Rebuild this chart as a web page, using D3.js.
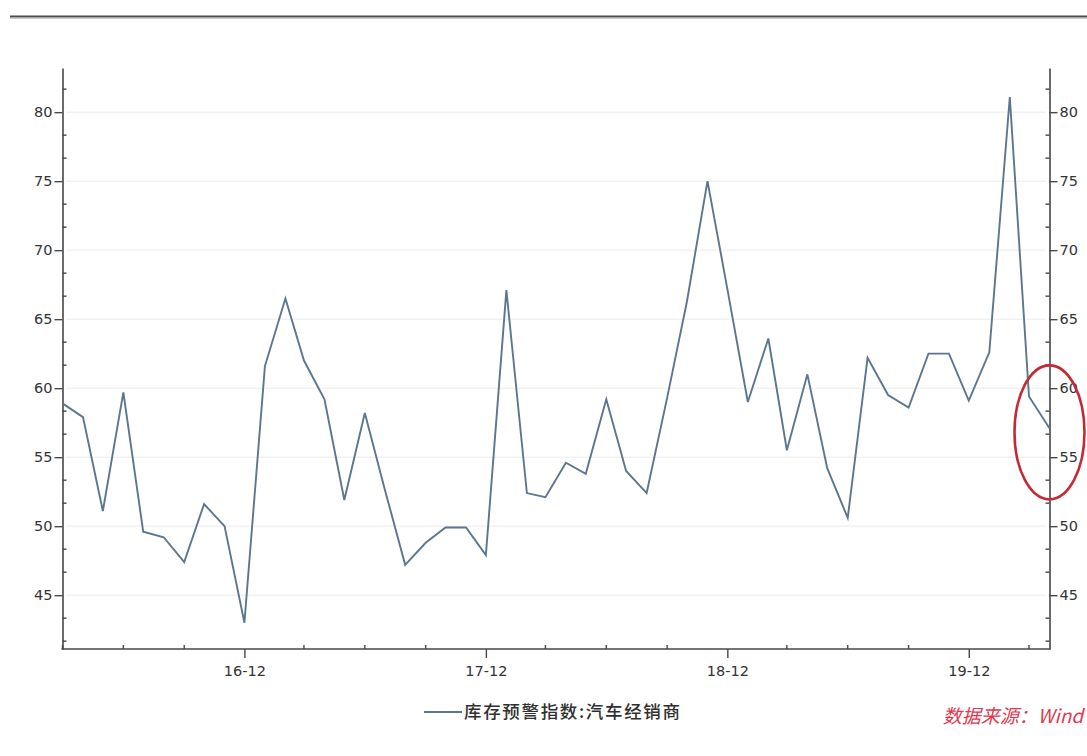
<!DOCTYPE html>
<html>
<head>
<meta charset="utf-8">
<script src="https://cdn.jsdelivr.net/npm/d3@7"></script>
<style>
  html, body { margin: 0; padding: 0; background: #ffffff; }
  svg { display: block; }
  .tick text { font-family: "DejaVu Sans", sans-serif; font-size: 14.5px; fill: #333333; }
</style>
</head>
<body>
<svg id="chart" width="1087" height="756"></svg>
<script>
// Monthly dealer inventory warning index, Mar 2016 – Apr 2020
const months = [
  "2016-03","2016-04","2016-05","2016-06","2016-07","2016-08","2016-09","2016-10","2016-11","2016-12",
  "2017-01","2017-02","2017-03","2017-04","2017-05","2017-06","2017-07","2017-08","2017-09","2017-10","2017-11","2017-12",
  "2018-01","2018-02","2018-03","2018-04","2018-05","2018-06","2018-07","2018-08","2018-09","2018-10","2018-11","2018-12",
  "2019-01","2019-02","2019-03","2019-04","2019-05","2019-06","2019-07","2019-08","2019-09","2019-10","2019-11","2019-12",
  "2020-01","2020-02","2020-03","2020-04"
];
const indexValues = [
  58.9, 57.9, 51.1, 59.7, 49.6, 49.2, 47.4, 51.6, 50.0, 43.0,
  61.6, 66.5, 62.0, 59.2, 51.9, 58.2, 52.7, 47.2, 48.8, 49.9, 49.9, 47.9,
  67.1, 52.4, 52.1, 54.6, 53.8, 59.2, 54.0, 52.4, 59.3, 66.3, 75.0, 67.2,
  59.0, 63.6, 55.5, 61.0, 54.2, 50.6, 62.2, 59.5, 58.6, 62.5, 62.5, 59.1,
  62.6, 81.1, 59.4, 57.1
];
const yMajorTicks = [45, 50, 55, 60, 65, 70, 75, 80];
const yDomain = [41.1, 83.2];
const seriesName = "库存预警指数:汽车经销商";
const sourceText = "数据来源：Wind";
// highlighted latest readings (centre month and value of the ring)
const highlightMonth = "2020-04";
const highlightValue = 56.8;

const parseMonth = d3.timeParse("%Y-%m");
const data = months.map((m, i) => ({ date: parseMonth(m), value: indexValues[i] }));

const svg = d3.select("#chart");
const plotLeft = 62.5, plotRight = 1049.5, plotTop = 68, plotBottom = 649;

const x = d3.scaleTime()
  .domain(d3.extent(data, d => d.date))
  .range([plotLeft, plotRight]);
const y = d3.scaleLinear().domain(yDomain).range([plotBottom, plotTop]);

// header rule
svg.append("line")
  .attr("x1", 10).attr("x2", 1087).attr("y1", 16.5).attr("y2", 16.5)
  .attr("stroke", "#4d4d4d").attr("stroke-width", 2);
svg.append("line")
  .attr("x1", 10).attr("x2", 1087).attr("y1", 18.5).attr("y2", 18.5)
  .attr("stroke", "#c8c8c8").attr("stroke-width", 1);

// faint horizontal grid
svg.append("g")
  .selectAll("line")
  .data(yMajorTicks)
  .join("line")
  .attr("x1", plotLeft + 4).attr("x2", plotRight - 4)
  .attr("y1", d => y(d)).attr("y2", d => y(d))
  .attr("stroke", "#f1f1f1").attr("stroke-width", 1.5);

// minor ticks on value axes (every 5/3)
const yMinor = d3.range(45 - 10 / 3, yDomain[1], 5 / 3)
  .filter(v => v > yDomain[0] && !yMajorTicks.some(t => Math.abs(t - v) < 0.01));

function styleAxis(g) {
  g.select(".domain").attr("stroke", "#474747").attr("stroke-width", 1.6);
  g.selectAll(".tick line").attr("stroke", "#474747").attr("stroke-width", 1.4);
}

const yLeft = svg.append("g")
  .attr("transform", `translate(${plotLeft},0)`)
  .call(d3.axisLeft(y).tickValues(yMajorTicks).tickFormat(d3.format("d")).tickSize(8).tickPadding(2).tickSizeOuter(0));
yLeft.call(styleAxis);
yLeft.selectAll(".minor").data(yMinor).join("line")
  .attr("class", "minor")
  .attr("x1", 0).attr("x2", 4)
  .attr("y1", d => y(d)).attr("y2", d => y(d))
  .attr("stroke", "#474747").attr("stroke-width", 1.4);

const yRight = svg.append("g")
  .attr("transform", `translate(${plotRight},0)`)
  .call(d3.axisRight(y).tickValues(yMajorTicks).tickFormat(d3.format("d")).tickSize(8).tickPadding(2).tickSizeOuter(0));
yRight.call(styleAxis);
yRight.selectAll(".minor").data(yMinor).join("line")
  .attr("class", "minor")
  .attr("x1", 0).attr("x2", -4)
  .attr("y1", d => y(d)).attr("y2", d => y(d))
  .attr("stroke", "#474747").attr("stroke-width", 1.4);

// time axis: quarterly minor ticks, December labelled
const quarterTicks = d3.timeMonth.range(x.domain()[0], d3.timeMonth.offset(x.domain()[1], 1))
  .filter(d => d.getMonth() % 3 === 2);
const decTicks = quarterTicks.filter(d => d.getMonth() === 11);
const fmt = d3.timeFormat("%y-%m");

const xAxis = svg.append("g")
  .attr("transform", `translate(0,${plotBottom})`)
  .call(d3.axisBottom(x).tickValues(decTicks).tickFormat(fmt).tickSize(9).tickPadding(8).tickSizeOuter(0));
xAxis.call(styleAxis);
xAxis.select(".domain").attr("d", `M${plotLeft - 1},0H${plotRight + 1}`);
xAxis.selectAll(".minor")
  .data(quarterTicks.filter(d => d.getMonth() !== 11))
  .join("line")
  .attr("class", "minor")
  .attr("x1", d => x(d)).attr("x2", d => x(d))
  .attr("y1", 0).attr("y2", -4)
  .attr("stroke", "#474747").attr("stroke-width", 1.4);

// series line
const line = d3.line().x(d => x(d.date)).y(d => y(d.value));
svg.append("path")
  .datum(data)
  .attr("d", line)
  .attr("fill", "none")
  .attr("stroke", "#5a7690")
  .attr("stroke-width", 1.9)
  .attr("stroke-linejoin", "miter");

// ring around the latest readings
svg.append("ellipse")
  .attr("cx", x(parseMonth(highlightMonth)))
  .attr("cy", y(highlightValue))
  .attr("rx", 35).attr("ry", 67)
  .attr("fill", "none")
  .attr("stroke", "#c42a35")
  .attr("stroke-width", 2.6);

// legend
const legend = svg.append("g").attr("transform", "translate(424,712)");
legend.append("line")
  .attr("x1", 0).attr("x2", 38).attr("y1", 0).attr("y2", 0)
  .attr("stroke", "#5a7690").attr("stroke-width", 2);
legend.append("text")
  .attr("x", 40).attr("y", 0).attr("dy", "0.36em")
  .attr("font-family", "'Noto Sans CJK SC', sans-serif")
  .attr("font-size", 17.5)
  .attr("font-weight", 500)
  .attr("fill", "#2f2f2f")
  .attr("textLength", 216)
  .attr("lengthAdjust", "spacing")
  .text(seriesName);

// source note
svg.append("text")
  .attr("x", 1083).attr("y", 716).attr("dy", "0.36em")
  .attr("text-anchor", "end")
  .attr("font-family", "'Noto Sans CJK SC', sans-serif")
  .attr("font-size", 19)
  .attr("font-style", "italic")
  .attr("fill", "#e0394f")
  .text(sourceText);
</script>
</body>
</html>
